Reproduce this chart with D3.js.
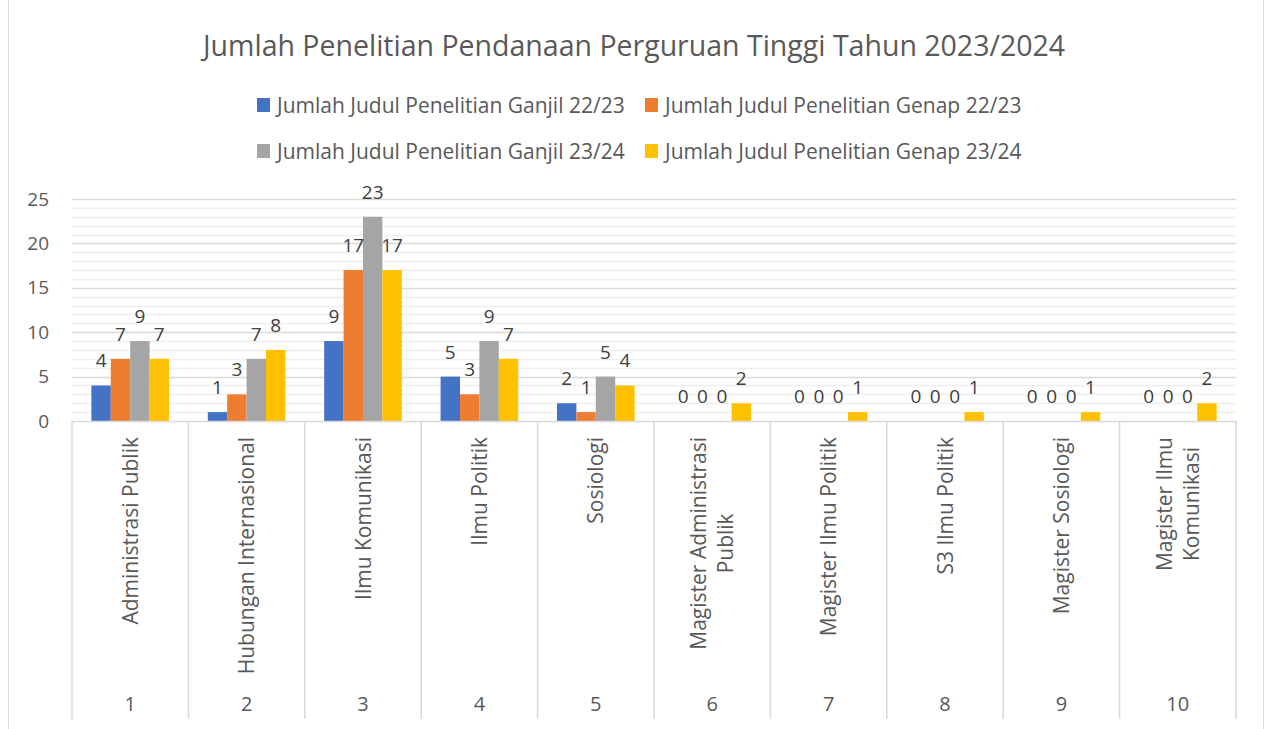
<!DOCTYPE html>
<html>
<head>
<meta charset="utf-8">
<script src="https://cdn.jsdelivr.net/npm/d3@7"></script>
<style>
  body { margin: 0; background: #fff; }
  svg { display: block; font-family: "Open Sans", sans-serif; }
</style>
</head>
<body>
<svg id="chart" width="1265" height="729"></svg>
<script>
// data
var categories = ["1", "2", "3", "4", "5", "6", "7", "8", "9", "10"];
var programs = [
  ["Administrasi Publik"],
  ["Hubungan Internasional"],
  ["Ilmu Komunikasi"],
  ["Ilmu Politik"],
  ["Sosiologi"],
  ["Magister Administrasi", "Publik"],
  ["Magister Ilmu Politik"],
  ["S3 Ilmu Politik"],
  ["Magister Sosiologi"],
  ["Magister Ilmu", "Komunikasi"]
];
var seriesNames = [
  "Jumlah Judul Penelitian Ganjil 22/23",
  "Jumlah Judul Penelitian Genap 22/23",
  "Jumlah Judul Penelitian Ganjil 23/24",
  "Jumlah Judul Penelitian Genap 23/24"
];
var ganjil2223 = [4, 1, 9, 5, 2, 0, 0, 0, 0, 0];
var genap2223  = [7, 3, 17, 3, 1, 0, 0, 0, 0, 0];
var ganjil2324 = [9, 7, 23, 9, 5, 0, 0, 0, 0, 0];
var genap2324  = [7, 8, 17, 7, 4, 2, 1, 1, 1, 2];
var seriesColors = ["#4472C4", "#ED7D31", "#A5A5A5", "#FFC000"];
var yTicks = [0, 5, 10, 15, 20, 25];

var series = [ganjil2223, genap2223, ganjil2324, genap2324];

var svg = d3.select("#chart");

// chart border
svg.append("rect")
  .attr("x", 8.5).attr("y", -2)
  .attr("width", 1255).attr("height", 740)
  .attr("fill", "none")
  .attr("stroke", "#d9d9d9");

var plotL = 72, plotR = 1236, plotT = 199, plotB = 421;

var x0 = d3.scaleBand().domain(categories).range([plotL, plotR]).paddingInner(0.333).paddingOuter(0.1665);
var x1 = d3.scaleBand().domain(d3.range(series.length)).range([0, x0.bandwidth()]);
var y = d3.scaleLinear().domain([0, 25]).range([plotB, plotT]);

// minor gridlines
svg.append("g").selectAll("line")
  .data(d3.range(1, 26).filter(function(d) { return d % 5 !== 0; }))
  .enter().append("line")
  .attr("x1", plotL).attr("x2", plotR)
  .attr("y1", function(d) { return Math.round(y(d)) + 0.5; })
  .attr("y2", function(d) { return Math.round(y(d)) + 0.5; })
  .attr("stroke", "#efefef")
  .attr("stroke-width", 1.5);

// major gridlines
svg.append("g").selectAll("line")
  .data(yTicks.slice(1))
  .enter().append("line")
  .attr("x1", plotL).attr("x2", plotR)
  .attr("y1", function(d) { return Math.round(y(d)) + 0.5; })
  .attr("y2", function(d) { return Math.round(y(d)) + 0.5; })
  .attr("stroke", "#d9d9d9")
  .attr("stroke-width", 1.5);

// y axis labels
var yAxis = d3.axisLeft(y).tickValues(yTicks).tickSize(0).tickPadding(0);
var yAxisG = svg.append("g")
  .attr("transform", "translate(49,0)")
  .call(yAxis);
yAxisG.select(".domain").remove();
yAxisG.selectAll("text")
  .attr("fill", "#595959")
  .style("font-size", "19px")
  .style("font-family", "Open Sans");

// bars
var groups = svg.append("g").selectAll("g")
  .data(categories)
  .enter().append("g")
  .attr("transform", function(d) { return "translate(" + x0(d) + ",0)"; });

groups.selectAll("rect")
  .data(function(d, i) { return series.map(function(s, k) { return {k: k, v: s[i]}; }); })
  .enter().append("rect")
  .attr("x", function(d) { return x1(d.k); })
  .attr("y", function(d) { return y(d.v); })
  .attr("width", x1.bandwidth())
  .attr("height", function(d) { return plotB - y(d.v); })
  .attr("fill", function(d) { return seriesColors[d.k]; });

groups.selectAll("text.val")
  .data(function(d, i) { return series.map(function(s, k) { return {k: k, v: s[i]}; }); })
  .enter().append("text")
  .attr("class", "val")
  .attr("x", function(d) { return x1(d.k) + x1.bandwidth() / 2; })
  .attr("y", function(d) { return y(d.v) - 25 + 7; })
  .attr("text-anchor", "middle")
  .attr("fill", "#404040")
  .style("font-size", "19px")
  .text(function(d) { return d.v; });

// category axis line and separators
svg.append("line")
  .attr("x1", plotL).attr("x2", plotR)
  .attr("y1", plotB + 0.5).attr("y2", plotB + 0.5)
  .attr("stroke", "#d9d9d9").attr("stroke-width", 1.5);

var step = x0.step();
svg.append("g").selectAll("line")
  .data(d3.range(categories.length + 1))
  .enter().append("line")
  .attr("x1", function(d) { return plotL + d * step; })
  .attr("x2", function(d) { return plotL + d * step; })
  .attr("y1", plotB).attr("y2", 719)
  .attr("stroke", "#d9d9d9").attr("stroke-width", 1.5);

// program labels (rotated)
svg.append("g").selectAll("g")
  .data(programs)
  .enter().append("g")
  .each(function(lines, i) {
    var g = d3.select(this);
    var cx = plotL + (i + 0.5) * step;
    var lh = 27;
    var t = g.selectAll("text").data(lines).enter().append("text")
      .attr("fill", "#595959")
      .attr("text-anchor", "middle")
      .style("font-size", "21px")
      .text(function(d) { return d; });
    var maxLen = 0;
    t.each(function() { maxLen = Math.max(maxLen, this.getComputedTextLength()); });
    var cy = 437 + maxLen / 2;
    t.attr("transform", function(d, j) {
      var off = (j - (lines.length - 1) / 2) * lh;
      return "translate(" + (cx + off + 7.5) + "," + cy + ") rotate(-90)";
    });
  });

// category numbers
svg.append("g").selectAll("text")
  .data(categories)
  .enter().append("text")
  .attr("x", function(d) { return x0(d) + x0.bandwidth() / 2; })
  .attr("y", 711)
  .attr("text-anchor", "middle")
  .attr("fill", "#595959")
  .style("font-size", "20px")
  .text(function(d) { return d; });

// title
svg.append("text")
  .attr("x", 634).attr("y", 56)
  .attr("text-anchor", "middle")
  .attr("fill", "#595959")
  .style("font-size", "28.5px")
  .text("Jumlah Penelitian Pendanaan Perguruan Tinggi Tahun 2023/2024");

// legend
var legendPos = [[257, 105], [645, 105], [257, 151], [645, 151]];
var legend = svg.append("g").selectAll("g")
  .data(seriesNames)
  .enter().append("g")
  .attr("transform", function(d, i) { return "translate(" + legendPos[i][0] + "," + legendPos[i][1] + ")"; });
legend.append("rect")
  .attr("x", 0).attr("y", -7)
  .attr("width", 13).attr("height", 14)
  .attr("fill", function(d, i) { return seriesColors[i]; });
legend.append("text")
  .attr("x", 20).attr("y", 7.5)
  .attr("fill", "#595959")
  .style("font-size", "21px")
  .text(function(d) { return d; });
</script>
</body>
</html>
